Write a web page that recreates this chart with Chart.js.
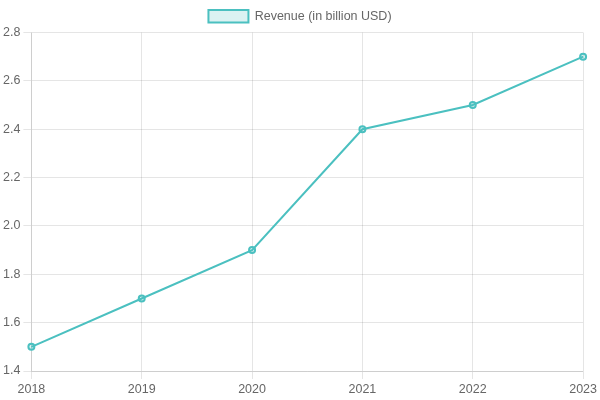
<!DOCTYPE html>
<html>
<head>
<meta charset="utf-8">
<script src="https://cdn.jsdelivr.net/npm/chart.js@4"></script>
<style>
html,body{margin:0;padding:0;background:#fff;}
#wrap{width:600px;height:400px;}
</style>
</head>
<body>
<div id="wrap"><canvas id="c"></canvas></div>
<script>
const years = ['2018', '2019', '2020', '2021', '2022', '2023'];
const revenue = [1.5, 1.7, 1.9, 2.4, 2.5, 2.7];
const seriesLabel = 'Revenue (in billion USD)';

Chart.defaults.font.family = '"Liberation Sans", Arial, sans-serif';
Chart.defaults.font.size = 12.5;
new Chart(document.getElementById('c'), {
  type: 'line',
  data: {
    labels: years,
    datasets: [{
      label: seriesLabel,
      data: revenue,
      borderColor: 'rgb(75,192,192)',
      backgroundColor: 'rgba(75,192,192,0.2)',
      borderWidth: 2,
      pointRadius: 3,
      fill: false,
      tension: 0
    }]
  },
  options: {
    responsive: true,
    maintainAspectRatio: false,
    animation: false,
    scales: {
      y: { min: 1.4, max: 2.8, ticks: { stepSize: 0.2 } }
    }
  }
});
</script>
</body>
</html>
